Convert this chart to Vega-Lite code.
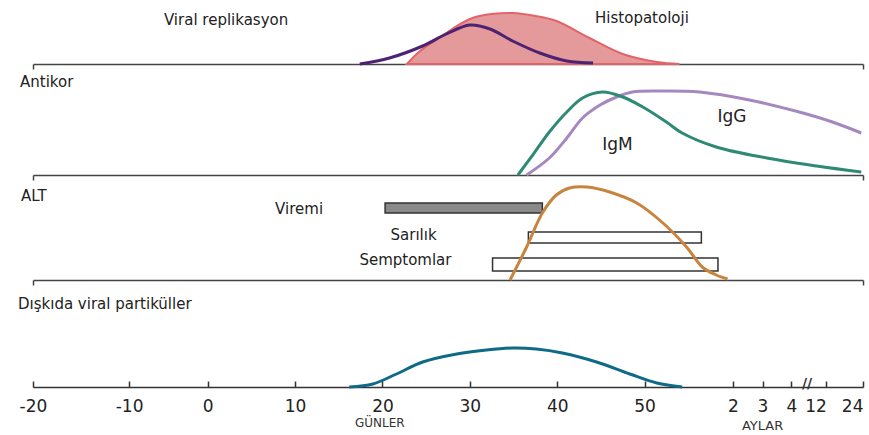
{
  "$schema": "https://vega.github.io/schema/vega-lite/v6.json",
  "padding": {"left": 18, "top": 0, "right": 0, "bottom": 0},
  "bounds": "flush",
  "spacing": 0,
  "background": "white",
  "config": {"view": {"stroke": null}, "axis": {"grid": false}, "font": "DejaVu Sans"},
  "datasets": {
    "histo": [
      {"x": 22.8, "y": 0}, {"x": 24.3, "y": 13}, {"x": 26.5, "y": 26}, {"x": 28.5, "y": 38}, {"x": 30.3, "y": 46},
      {"x": 32.5, "y": 50}, {"x": 34.9, "y": 51}, {"x": 37.5, "y": 48}, {"x": 39.9, "y": 43}, {"x": 43.7, "y": 26},
      {"x": 47.5, "y": 10}, {"x": 51.4, "y": 2}, {"x": 54.0, "y": 0}
    ],
    "viral": [
      {"x": 17.4, "y": 0}, {"x": 20.8, "y": 6}, {"x": 24.6, "y": 18}, {"x": 27.3, "y": 30}, {"x": 30.0, "y": 39},
      {"x": 32.3, "y": 35}, {"x": 34.9, "y": 23}, {"x": 38.0, "y": 11}, {"x": 41.1, "y": 3}, {"x": 44.1, "y": 1}
    ],
    "p1labels": [
      {"x": 2.1, "y": 44, "label": "Viral replikasyon"},
      {"x": 49.7, "y": 46, "label": "Histopatoloji"}
    ],
    "igm": [
      {"x": 35.5, "y": 0}, {"x": 37.2, "y": 20}, {"x": 39.1, "y": 43}, {"x": 41.1, "y": 63}, {"x": 42.9, "y": 77},
      {"x": 45.2, "y": 83}, {"x": 47.5, "y": 78}, {"x": 49.8, "y": 68}, {"x": 52.5, "y": 53}, {"x": 54.3, "y": 42},
      {"x": 58.2, "y": 28}, {"x": 64.0, "y": 17}, {"x": 69.7, "y": 9}, {"x": 74.8, "y": 3}
    ],
    "igg": [
      {"x": 36.5, "y": 0}, {"x": 39.1, "y": 17}, {"x": 41.1, "y": 37}, {"x": 42.9, "y": 57}, {"x": 44.9, "y": 70},
      {"x": 46.8, "y": 78}, {"x": 48.6, "y": 83}, {"x": 51.7, "y": 84}, {"x": 56.3, "y": 83}, {"x": 62.0, "y": 75},
      {"x": 67.7, "y": 63}, {"x": 71.5, "y": 53}, {"x": 74.8, "y": 42}
    ],
    "p2labels": [
      {"x": 60.0, "y": 58, "label": "IgG"},
      {"x": 46.9, "y": 30, "label": "IgM"}
    ],
    "alt": [
      {"x": 34.6, "y": 0}, {"x": 36.5, "y": 33}, {"x": 38.3, "y": 67}, {"x": 39.9, "y": 85}, {"x": 41.4, "y": 92},
      {"x": 43.4, "y": 93}, {"x": 46.0, "y": 88}, {"x": 49.1, "y": 77}, {"x": 52.1, "y": 57}, {"x": 54.8, "y": 33},
      {"x": 56.6, "y": 13}, {"x": 58.2, "y": 5}, {"x": 59.5, "y": 1}
    ],
    "bars": [
      {"label": "Viremi", "x": 20.3, "x2": 38.3, "y": 67, "y2": 77, "lx": 13.2, "ly": 71, "kind": "filled"},
      {"label": "Sarılık", "x": 36.7, "x2": 56.5, "y": 37, "y2": 48, "lx": 26.2, "ly": 45, "kind": "open"},
      {"label": "Semptomlar", "x": 32.6, "x2": 58.4, "y": 9, "y2": 22, "lx": 27.9, "ly": 20, "kind": "open"}
    ],
    "feces": [
      {"x": 16.2, "y": 0}, {"x": 18.9, "y": 3}, {"x": 21.6, "y": 13}, {"x": 24.6, "y": 25}, {"x": 28.5, "y": 33},
      {"x": 31.9, "y": 37}, {"x": 34.9, "y": 39}, {"x": 37.6, "y": 38}, {"x": 40.6, "y": 34}, {"x": 44.5, "y": 25},
      {"x": 48.3, "y": 13}, {"x": 51.4, "y": 4}, {"x": 54.3, "y": 0}
    ]
  },
  "vconcat": [
    {
      "width": 830,
      "height": 64,
      "encoding": {
        "x": {"field": "x", "type": "quantitative", "scale": {"domain": [-20, 75], "nice": false, "zero": false},
          "axis": {"values": [-20, 75], "labels": false, "title": null, "tickSize": 5, "domainColor": "#444", "tickColor": "#444", "domainWidth": 1.5, "tickWidth": 1.5}},
        "y": {"field": "y", "type": "quantitative", "scale": {"domain": [0, 64], "nice": false}, "axis": null}
      },
      "layer": [
        {"data": {"name": "histo"}, "mark": {"type": "area", "interpolate": "catmull-rom", "fill": "#e49a9b", "stroke": "#e2646a", "strokeWidth": 2}},
        {"data": {"name": "viral"}, "mark": {"type": "line", "interpolate": "catmull-rom", "color": "#4d2272", "strokeWidth": 3}},
        {"data": {"name": "p1labels"}, "mark": {"type": "text", "align": "center", "baseline": "middle", "fontSize": 15, "color": "#222"},
          "encoding": {"text": {"field": "label"}}}
      ]
    },
    {
      "width": 830,
      "height": 111,
      "encoding": {
        "x": {"field": "x", "type": "quantitative", "scale": {"domain": [-20, 75], "nice": false, "zero": false},
          "axis": {"values": [-20, 75], "labels": false, "title": null, "tickSize": 5, "domainColor": "#444", "tickColor": "#444", "domainWidth": 1.5, "tickWidth": 1.5}},
        "y": {"field": "y", "type": "quantitative", "scale": {"domain": [0, 111], "nice": false}, "axis": null}
      },
      "layer": [
        {"data": {"name": "igg"}, "mark": {"type": "line", "interpolate": "catmull-rom", "color": "#a588bf", "strokeWidth": 3}},
        {"data": {"name": "igm"}, "mark": {"type": "line", "interpolate": "catmull-rom", "color": "#2e8a74", "strokeWidth": 3}},
        {"data": {"name": "p2labels"}, "mark": {"type": "text", "align": "center", "baseline": "middle", "fontSize": 17, "color": "#222"},
          "encoding": {"text": {"field": "label"}}},
        {"data": {"values": [{"x": -20, "y": 93, "label": "Antikor"}]}, "mark": {"type": "text", "align": "left", "baseline": "middle", "dx": -13, "fontSize": 15, "color": "#222"},
          "encoding": {"text": {"field": "label"}}}
      ]
    },
    {
      "width": 830,
      "height": 105,
      "encoding": {
        "x": {"field": "x", "type": "quantitative", "scale": {"domain": [-20, 75], "nice": false, "zero": false},
          "axis": {"values": [-20, 75], "labels": false, "title": null, "tickSize": 5, "domainColor": "#444", "tickColor": "#444", "domainWidth": 1.5, "tickWidth": 1.5}},
        "y": {"field": "y", "type": "quantitative", "scale": {"domain": [0, 105], "nice": false}, "axis": null}
      },
      "layer": [
        {"data": {"name": "bars"}, "mark": {"type": "rect", "stroke": "#333", "strokeWidth": 1.5},
          "encoding": {"x2": {"field": "x2"}, "y2": {"field": "y2"},
            "fill": {"field": "kind", "type": "nominal", "scale": {"domain": ["filled", "open"], "range": ["#8a8a8a", "#ffffff"]}, "legend": null}}},
        {"data": {"name": "bars"}, "mark": {"type": "text", "align": "right", "baseline": "middle", "fontSize": 15, "color": "#222"},
          "encoding": {"x": {"field": "lx", "type": "quantitative"}, "y": {"field": "ly", "type": "quantitative"}, "text": {"field": "label"}}},
        {"data": {"name": "alt"}, "mark": {"type": "line", "interpolate": "catmull-rom", "color": "#c8843e", "strokeWidth": 3}},
        {"data": {"values": [{"x": -20, "y": 84, "label": "ALT"}]}, "mark": {"type": "text", "align": "left", "baseline": "middle", "dx": -12, "fontSize": 15, "color": "#222"},
          "encoding": {"text": {"field": "label"}}}
      ]
    },
    {
      "width": 830,
      "height": 107,
      "encoding": {
        "x": {"field": "x", "type": "quantitative", "scale": {"domain": [-20, 75], "nice": false, "zero": false},
          "axis": {"values": [-20, -9, 0, 10, 20, 30, 40, 50, 60.1, 63.5, 66.8, 70.8, 75],
            "labelExpr": "datum.value < 55 ? (datum.value > -15 && datum.value < -5 ? '-10' : '' + datum.value) : datum.value < 62 ? '2' : datum.value < 65 ? '3' : datum.value < 68 ? '4' : datum.value < 72 ? '12' : '24'",
            "labelAlign": {"condition": {"test": "datum.value >= 70", "value": "right"}, "value": "center"},
            "labelFlush": false, "labelOverlap": false, "labelFontSize": 17, "labelFont": "DejaVu Sans", "labelColor": "#222",
            "labelPadding": 17, "title": null, "tickSize": -6, "domainColor": "#333", "tickColor": "#333", "domainWidth": 1.5, "tickWidth": 1.5}},
        "y": {"field": "y", "type": "quantitative", "scale": {"domain": [0, 107], "nice": false}, "axis": null}
      },
      "layer": [
        {"data": {"name": "feces"}, "mark": {"type": "line", "interpolate": "catmull-rom", "color": "#0e6a87", "strokeWidth": 3}},
        {"data": {"values": [{"x": -20, "y": 83, "label": "Dışkıda viral partiküller"}]}, "mark": {"type": "text", "align": "left", "baseline": "middle", "dx": -15, "fontSize": 15, "color": "#222"},
          "encoding": {"text": {"field": "label"}}},
        {"data": {"values": [{"x": 68.6, "y": 0, "label": "//"}]}, "mark": {"type": "text", "align": "center", "baseline": "middle", "dy": -3, "fontSize": 14, "fontWeight": "bold", "color": "#333"},
          "encoding": {"text": {"field": "label"}}},
        {"data": {"values": [{"x": 19.7, "y": 0, "label": "GÜNLER"}]}, "mark": {"type": "text", "align": "center", "baseline": "middle", "dy": 36, "fontSize": 12, "color": "#333"},
          "encoding": {"text": {"field": "label"}}},
        {"data": {"values": [{"x": 63.5, "y": 0, "label": "AYLAR"}]}, "mark": {"type": "text", "align": "center", "baseline": "middle", "dy": 39, "fontSize": 13, "color": "#333"},
          "encoding": {"text": {"field": "label"}}}
      ]
    }
  ]
}
